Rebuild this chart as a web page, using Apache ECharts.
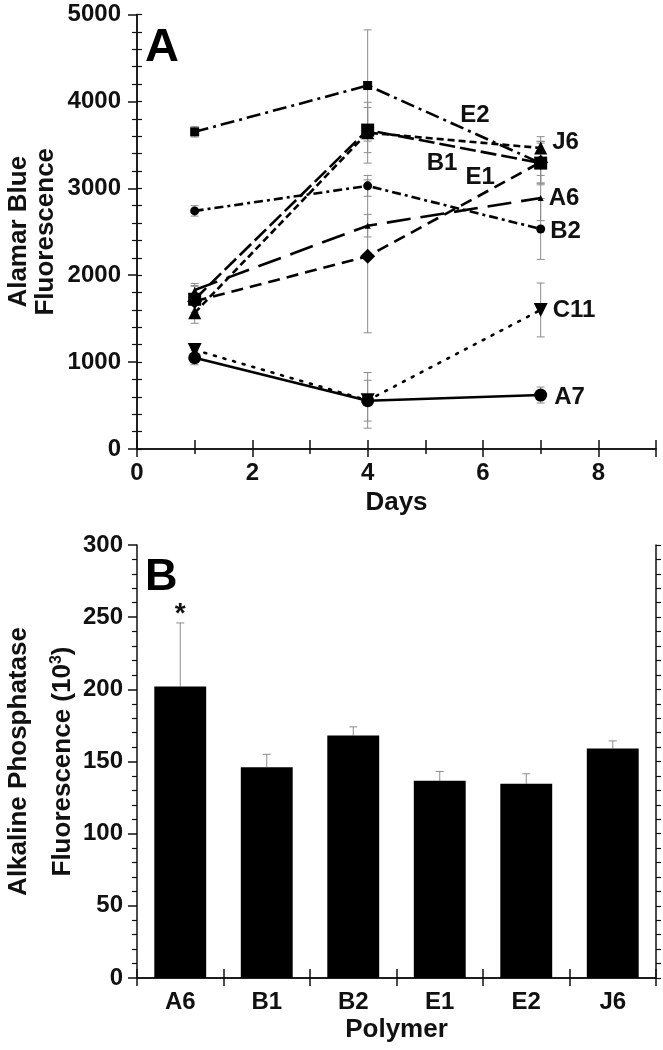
<!DOCTYPE html>
<html><head><meta charset="utf-8">
<script src="https://cdn.jsdelivr.net/npm/echarts@6/dist/echarts.min.js"></script>
<style>html,body{margin:0;padding:0;background:#fff}#c{width:663px;height:1050px}</style>
</head><body><div id="c"></div>
<script>
// ---------- Panel A data ----------
const days = [1, 4, 7];
const xTicksA = [0, 2, 4, 6, 8];
const E2 = [3650, 4183, 3290];
const E2_err = [60, 640, 250];
const B1 = [1723, 3670, 3290];
const B1_err = [150, 260, 230];
const J6 = [1567, 3640, 3464];
const J6_err = [120, 350, 130];
const E1 = [1700, 2217, 3300];
const E1_err = [180, 880, 240];
const A6 = [1830, 2570, 2888];
const A6_err = [75, 130, 260];
const B2 = [2740, 3028, 2532];
const B2_err = [60, 120, 350];
const C11 = [1140, 560, 1600];
const C11_err = [50, 320, 310];
const A7 = [1050, 556, 621];
const A7_err = [80, 235, 92];

// ---------- Panel B data ----------
const polymers = ['A6', 'B1', 'B2', 'E1', 'E2', 'J6'];
const alp = [202, 146, 168, 136.6, 134.5, 159];
const alpErr = [44, 9, 6, 6.5, 7, 5.3];
const significance = ['*', '', '', '', '', ''];

const FONT = 'Liberation Sans, Arial, sans-serif';
const ERRC = '#8c8c8c';

const lineSeries = [
  {name: 'E2', vals: E2, err: E2_err},
  {name: 'B1', vals: B1, err: B1_err},
  {name: 'J6', vals: J6, err: J6_err},
  {name: 'E1', vals: E1, err: E1_err},
  {name: 'A6', vals: A6, err: A6_err},
  {name: 'B2', vals: B2, err: B2_err},
  {name: 'C11', vals: C11, err: C11_err},
  {name: 'A7', vals: A7, err: A7_err}
];

// style / layout config (not data)
const styleA = {
  E2:  {dash: [14, 5, 3, 5], symbol: 'rect', size: 9, rot: 0, label: {mid: [5.86, 3843]}},
  B1:  {dash: [16, 5], symbol: 'rect', size: 13, rot: 0, label: {mid: [5.29, 3291]}},
  J6:  {dash: [7, 4], symbol: 'triangle', size: 13, rot: 0, label: {right: [0, -6]}},
  E1:  {dash: [12, 7], symbol: 'diamond', size: 15, rot: 0, label: {mid: [5.95, 3130]}},
  A6:  {dash: [24, 10], symbol: 'triangle', size: 6, rot: 0, label: {right: [0, 0]}},
  B2:  {dash: [9, 4, 3, 4], symbol: 'circle', size: 9, rot: 0, label: {right: [0, 2]}},
  C11: {dash: [2, 8], symbol: 'triangle', size: 14, rot: 180, label: {right: [0, 0]}},
  A7:  {dash: 'solid', symbol: 'circle', size: 13, rot: 0, label: {right: [2, 2]}}
};

const labelFont = {fontFamily: FONT, fontWeight: 'bold', fontSize: 24, color: '#111'};

const chart = echarts.init(document.getElementById('c'), null, {renderer: 'canvas'});

const series = [];

// error bars for panel A
const errDataA = [];
lineSeries.forEach(s => days.forEach((d, i) => errDataA.push([d, s.vals[i], s.err[i]])));
series.push({
  type: 'custom', xAxisIndex: 0, yAxisIndex: 0, z: 1, silent: true,
  data: errDataA,
  renderItem: function (params, api) {
    const x = api.value(0), y = api.value(1), e = api.value(2);
    const t = api.coord([x, y + e]), b = api.coord([x, y - e]);
    const w = 4, st = {stroke: ERRC, lineWidth: 1};
    return {type: 'group', children: [
      {type: 'line', shape: {x1: t[0], y1: t[1], x2: b[0], y2: b[1]}, style: st},
      {type: 'line', shape: {x1: t[0] - w, y1: t[1], x2: t[0] + w, y2: t[1]}, style: st},
      {type: 'line', shape: {x1: b[0] - w, y1: b[1], x2: b[0] + w, y2: b[1]}, style: st}
    ]};
  }
});

lineSeries.forEach(s => {
  const st = styleA[s.name];
  const data = days.map((d, i) => {
    const item = {value: [d, s.vals[i]]};
    if (i === days.length - 1 && st.label.right) {
      item.label = Object.assign({show: true, position: 'right', distance: 5,
        offset: st.label.right, formatter: s.name}, labelFont);
    }
    return item;
  });
  const ser = {
    type: 'line', name: s.name, xAxisIndex: 0, yAxisIndex: 0, z: 3,
    data: data,
    symbol: st.symbol, symbolSize: st.size, symbolRotate: st.rot,
    itemStyle: {color: '#000'},
    lineStyle: {color: '#000', width: 2.6, type: st.dash, cap: s.name === 'C11' ? 'round' : 'butt'},
    label: {show: false},
    emphasis: {disabled: true}
  };
  if (st.label.mid) {
    ser.markPoint = {
      symbol: 'circle', symbolSize: 0, silent: true,
      data: [{coord: st.label.mid, value: s.name}],
      label: Object.assign({show: true, position: 'inside', formatter: s.name}, labelFont)
    };
  }
  series.push(ser);
});

// panel B bars
series.push({
  type: 'bar', xAxisIndex: 2, yAxisIndex: 2, data: alp, barWidth: '60%',
  itemStyle: {color: '#000'}, z: 3, emphasis: {disabled: true}
});
// panel B error bars (upper only) + significance marks
series.push({
  type: 'custom', xAxisIndex: 2, yAxisIndex: 2, z: 2, silent: true,
  data: polymers.map((p, i) => [i, alp[i], alpErr[i]]),
  renderItem: function (params, api) {
    const i = api.value(0), v = api.value(1), e = api.value(2);
    const sig = significance[params.dataIndex];
    const t = api.coord([i, v + e]), b = api.coord([i, v]);
    const w = 4, st = {stroke: ERRC, lineWidth: 1};
    const ch = [
      {type: 'line', shape: {x1: t[0], y1: t[1], x2: b[0], y2: b[1]}, style: st},
      {type: 'line', shape: {x1: t[0] - w, y1: t[1], x2: t[0] + w, y2: t[1]}, style: st}
    ];
    if (sig) {
      ch.push({type: 'text', x: t[0], y: t[1] + 5, style: {text: sig, fill: '#111',
        font: 'bold 28px ' + FONT, align: 'center', verticalAlign: 'bottom'}});
    }
    return {type: 'group', children: ch};
  }
});

const tickLabel = {fontFamily: FONT, fontWeight: 'bold', fontSize: 24, color: '#111'};
const nameStyle = {fontFamily: FONT, fontWeight: 'bold', fontSize: 26, color: '#111'};
const axLine = {show: true, lineStyle: {color: '#111', width: 1.5}};
const plain = v => String(v);

chart.setOption({
  animation: false,
  backgroundColor: '#fff',
  title: [
    {text: 'A', left: 145, top: 25, padding: 0, textStyle: {fontFamily: FONT, fontWeight: 'bold', fontSize: 47, color: '#000'}},
    {text: 'B', left: 145, top: 555, padding: 0, textStyle: {fontFamily: FONT, fontWeight: 'bold', fontSize: 45, color: '#000'}}
  ],
  grid: [
    {left: 137, top: 14.5, width: 519, height: 434.5, outerBoundsMode: 'none'},
    {left: 137, top: 545, width: 519, height: 433, outerBoundsMode: 'none'}
  ],
  xAxis: [
    {gridIndex: 0, type: 'value', min: 0, max: 9, interval: 2, position: 'bottom',
      axisLine: axLine, axisTick: {show: true, inside: false, length: 8, lineStyle: {color: '#111', width: 1.5}},
      minorTick: {show: true, splitNumber: 2, length: 5, lineStyle: {color: '#111', width: 1.5}},
      splitLine: {show: false},
      axisLabel: Object.assign({margin: 12, showMaxLabel: false,
        formatter: v => xTicksA.indexOf(v) >= 0 ? String(v) : ''}, tickLabel),
      name: 'Days', nameLocation: 'middle', nameGap: 41, nameMoveOverlap: false, nameTextStyle: nameStyle},
    {gridIndex: 0, type: 'value', min: 0, max: 9, interval: 1, position: 'top',
      axisLine: axLine, axisTick: {show: true, length: 9, lineStyle: {color: '#111', width: 1.5}},
      axisLabel: {show: false}, splitLine: {show: false}},
    {gridIndex: 1, type: 'category', data: polymers, position: 'bottom',
      axisLine: axLine, axisTick: {show: true, alignWithLabel: false, length: 8, lineStyle: {color: '#111', width: 1.5}},
      axisLabel: Object.assign({margin: 12}, tickLabel),
      name: 'Polymer', nameLocation: 'middle', nameGap: 39, nameMoveOverlap: false, nameTextStyle: nameStyle},
    {gridIndex: 1, type: 'category', data: polymers, position: 'top',
      axisLine: axLine, axisTick: {show: true, alignWithLabel: false, length: 9, lineStyle: {color: '#111', width: 1.5}},
      axisLabel: {show: false}}
  ],
  yAxis: [
    {gridIndex: 0, type: 'value', min: 0, max: 5000, interval: 1000, position: 'left',
      axisLine: axLine, axisTick: {show: true, length: 9, lineStyle: {color: '#111', width: 1.5}},
      minorTick: {show: true, splitNumber: 5, length: 5, lineStyle: {color: '#111', width: 1.2}},
      splitLine: {show: false},
      axisLabel: Object.assign({margin: 16, formatter: plain}, tickLabel),
      name: 'Alamar Blue\nFluorescence', nameLocation: 'middle', nameGap: 78, nameMoveOverlap: false,
      nameTextStyle: Object.assign({lineHeight: 27}, nameStyle)},
    {gridIndex: 0, type: 'value', min: 0, max: 5000, interval: 200, position: 'right',
      axisLine: axLine, axisTick: {show: true, length: 5, lineStyle: {color: '#111', width: 1.2}},
      axisLabel: {show: false}, splitLine: {show: false}},
    {gridIndex: 1, type: 'value', min: 0, max: 300, interval: 50, position: 'left',
      axisLine: axLine, axisTick: {show: true, length: 9, lineStyle: {color: '#111', width: 1.5}},
      minorTick: {show: true, splitNumber: 5, length: 5, lineStyle: {color: '#111', width: 1.2}},
      splitLine: {show: false},
      axisLabel: Object.assign({margin: 14, formatter: plain}, tickLabel),
      name: 'Alkaline Phosphatase\nFluorescence (10{sup|3})', nameLocation: 'middle', nameGap: 52, nameMoveOverlap: false,
      nameTextStyle: Object.assign({lineHeight: 44, rich: {sup: {fontFamily: FONT, fontWeight: 'bold', fontSize: 16, color: '#111', padding: [0, 0, 12, 0]}}}, nameStyle)},
    {gridIndex: 1, type: 'value', min: 0, max: 300, interval: 10, position: 'right',
      axisLine: axLine, axisTick: {show: true, length: 5, lineStyle: {color: '#111', width: 1.2}},
      axisLabel: {show: false}, splitLine: {show: false}}
  ],
  series: series
});
</script></body></html>
